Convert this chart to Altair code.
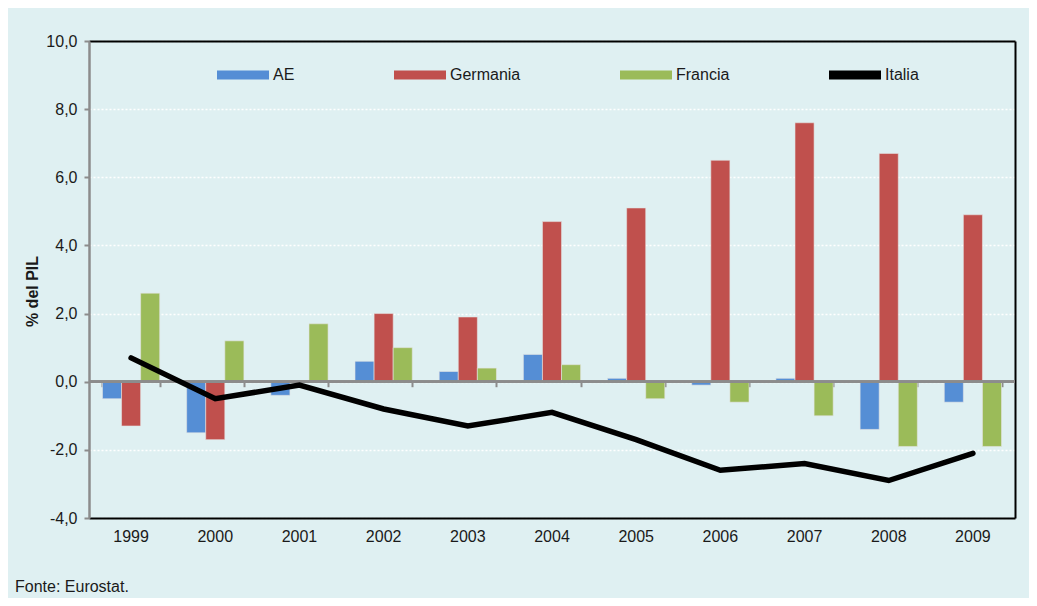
import altair as alt
import pandas as pd

years = ['1999', '2000', '2001', '2002', '2003', '2004', '2005', '2006', '2007', '2008', '2009']
ae = [-0.5, -1.5, -0.4, 0.6, 0.3, 0.8, 0.1, -0.1, 0.1, -1.4, -0.6]
germania = [-1.3, -1.7, 0.0, 2.0, 1.9, 4.7, 5.1, 6.5, 7.6, 6.7, 4.9]
francia = [2.6, 1.2, 1.7, 1.0, 0.4, 0.5, -0.5, -0.6, -1.0, -1.9, -1.9]
italia = [0.7, -0.5, -0.1, -0.8, -1.3, -0.9, -1.7, -2.6, -2.4, -2.9, -2.1]

series_names = ['AE', 'Germania', 'Francia', 'Italia']
series_colors = ['#558ed5', '#c0504d', '#9bbb59', '#000000']
y_ticks = [-4, -2, 0, 2, 4, 6, 8, 10]
source_note = 'Fonte: Eurostat.'
y_title = '% del PIL'

FONT = 'Liberation Sans'
TXT = '#1a1a1a'
GRAY = '#8c8c8c'
W, H = 926, 477

bar_rows = []
for name, vals in [('AE', ae), ('Germania', germania), ('Francia', francia)]:
    for yr, v in zip(years, vals):
        bar_rows.append({'year': yr, 'series': name, 'value': v})
bars_df = pd.DataFrame(bar_rows)
line_df = pd.DataFrame({'year': years, 'series': 'Italia', 'value': italia})

xscale = alt.Scale(type='band', domain=years, paddingInner=0.32, paddingOuter=0.16)
yscale = alt.Scale(domain=[-4, 10], nice=False, zero=False)
cscale = alt.Scale(domain=series_names, range=series_colors)

legend = alt.Legend(
    orient='none', legendX=128, legendY=8, direction='horizontal', title=None,
    symbolType='M-1,-0.173L1,-0.173L1,0.173L-1,0.173Z', symbolSize=2704,
    symbolStrokeWidth=0, labelFont=FONT, labelFontSize=16, labelColor=TXT,
    labelOffset=4, columnPadding=99, padding=0, labelLimit=300,
)

label_expr = "(datum.value < 0 ? '-' : '') + replace(format(abs(datum.value), '.1f'), '.', ',')"

bars = alt.Chart(bars_df).mark_bar(stroke='#e4e4e4', strokeWidth=0.6).encode(
    x=alt.X('year:N', scale=xscale, sort=years,
            axis=alt.Axis(orient='bottom', title=None, ticks=False, tickSize=0,
                          domainColor='black', domainWidth=2, labelAngle=0,
                          labelFont=FONT, labelFontSize=16, labelColor=TXT,
                          labelPadding=10, grid=False)),
    xOffset=alt.XOffset('series:N', scale=alt.Scale(domain=['AE', 'Germania', 'Francia'])),
    y=alt.Y('value:Q', scale=yscale,
            axis=alt.Axis(orient='left', values=y_ticks, title=y_title,
                          titleFont=FONT, titleFontSize=16, titleFontWeight='bold',
                          titleColor=TXT, titleX=-57, titleY=250, titleAlign='center',
                          titleBaseline='middle', titleAngle=270,
                          labelExpr=label_expr,
                          labelFont=FONT, labelFontSize=16, labelColor=TXT, labelPadding=7,
                          domainColor=GRAY, domainWidth=2.5, tickColor=GRAY,
                          tickSize=5, tickWidth=2, grid=True, gridColor='white',
                          gridDash=[2, 2], gridWidth=1.5)),
    color=alt.Color('series:N', scale=cscale, legend=legend),
)

zero = alt.Chart(line_df).mark_rule(color=GRAY, strokeWidth=2).encode(
    y=alt.Y('zero:Q', scale=yscale, axis=None),
).transform_calculate(zero='0')

line = alt.Chart(line_df).mark_line(strokeWidth=5.5, strokeCap='round').encode(
    x=alt.X('year:N', scale=xscale, sort=years,
            axis=alt.Axis(orient='bottom', offset=-(H * 4 / 14), title=None, labels=False,
                          domain=False, ticks=True, tickBand='extent', tickColor=GRAY,
                          tickSize=5, tickWidth=2, grid=False)),
    y=alt.Y('value:Q', scale=yscale,
            axis=alt.Axis(orient='right', title=None, labels=False, ticks=False,
                          domainColor='black', domainWidth=2, grid=False)),
    color=alt.Color('series:N', scale=cscale, legend=legend),
)

frame_top = alt.Chart(line_df).mark_point(opacity=0).encode(
    x=alt.X('year:N', scale=xscale, sort=years,
            axis=alt.Axis(orient='top', title=None, labels=False, ticks=False,
                          domainColor='black', domainWidth=2, grid=False)),
    y=alt.Y('value:Q', scale=yscale, axis=None),
)

chart = alt.layer(bars, zero, line, frame_top).resolve_axis(
    x='independent', y='independent'
).properties(
    width=W, height=H,
    background='#dff0f2',
    padding={'left': 81, 'top': 33, 'right': 14, 'bottom': 80},
    autosize=alt.AutoSizeParams(type='none'),
    title=alt.TitleParams(source_note, orient='bottom', anchor='start', frame='group',
                          dx=-74, offset=35, font=FONT, fontSize=16, fontWeight='normal',
                          color=TXT),
).configure_view(stroke=None)

chart.save('out.html', embed_options={'renderer': 'svg', 'actions': False})
